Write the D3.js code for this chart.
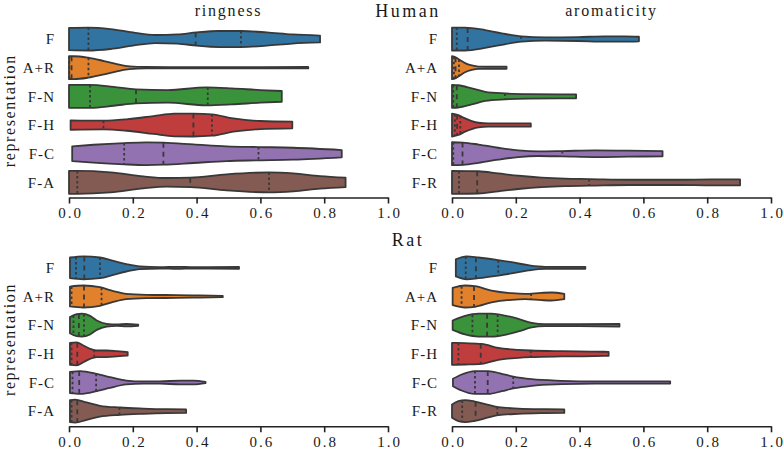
<!DOCTYPE html>
<html><head><meta charset="utf-8">
<script src="https://cdn.jsdelivr.net/npm/d3@7"></script>
<style>body{margin:0;background:#fff}svg{display:block}</style>
</head><body>
<svg id="chart" width="784" height="452"></svg>
<script>
// ---------------- data ----------------
const speciesNames = ["Human", "Rat"];
const propertyNames = ["ringness", "aromaticity"];
const ringnessCategories = ["F", "A+R", "F-N", "F-H", "F-C", "F-A"];
const aromaticityCategories = ["F", "A+A", "F-N", "F-H", "F-C", "F-R"];
const xTickValues = [0, 0.2, 0.4, 0.6, 0.8, 1.0];
const violinColors = ["#3274a1", "#e1812c", "#3a923a", "#c03d3e", "#9372b2", "#845b53"];

// density profiles: [value, relative half-width]
const humanRingnessProfiles = [
  [[0,0.97],[0.06,1.0],[0.13,0.87],[0.2,0.58],[0.27,0.35],[0.34,0.4],[0.4,0.58],[0.47,0.7],[0.54,0.7],[0.62,0.58],[0.7,0.4],[0.787,0.3]],
  [[0,1.0],[0.015,1.0],[0.06,0.87],[0.11,0.58],[0.15,0.32],[0.19,0.12],[0.24,0.06],[0.4,0.05],[0.6,0.05],[0.75,0.06]],
  [[0,1.0],[0.066,1.0],[0.14,0.82],[0.21,0.61],[0.31,0.55],[0.43,0.78],[0.51,0.7],[0.6,0.55],[0.667,0.47]],
  [[0.005,0.41],[0.108,0.38],[0.18,0.5],[0.265,0.78],[0.33,0.99],[0.39,1.0],[0.448,0.93],[0.515,0.58],[0.6,0.35],[0.70,0.29]],
  [[0.01,0.64],[0.076,0.78],[0.173,0.93],[0.243,0.99],[0.296,0.96],[0.39,0.81],[0.494,0.64],[0.594,0.58],[0.703,0.52],[0.855,0.32]],
  [[0,1.0],[0.026,1.0],[0.13,0.87],[0.233,0.52],[0.306,0.38],[0.38,0.41],[0.494,0.7],[0.627,0.87],[0.703,0.78],[0.787,0.55],[0.867,0.41]]
];
const humanRingnessQuartiles = [
  [0.061,0.397,0.539],[0.001,0.008,0.061],[0.066,0.21,0.435],[0.108,0.39,0.448],[0.173,0.296,0.594],[0.026,0.38,0.627]
];
const humanAromaticityProfiles = [
  [[0,1.0],[0.04,1.0],[0.104,0.78],[0.156,0.5],[0.218,0.23],[0.292,0.14],[0.396,0.17],[0.48,0.23],[0.542,0.23],[0.586,0.2]],
  [[0,1.0],[0.01,0.93],[0.025,0.67],[0.041,0.4],[0.062,0.2],[0.083,0.1],[0.124,0.09],[0.171,0.09]],
  [[0,1.0],[0.02,0.97],[0.062,0.7],[0.104,0.4],[0.166,0.26],[0.24,0.2],[0.389,0.17]],
  [[0,1.0],[0.02,0.87],[0.041,0.58],[0.062,0.35],[0.083,0.2],[0.114,0.14],[0.247,0.14]],
  [[0,1.0],[0.035,0.97],[0.083,0.8],[0.145,0.52],[0.208,0.29],[0.27,0.2],[0.346,0.23],[0.448,0.29],[0.553,0.26],[0.66,0.23]],
  [[0,1.0],[0.083,0.97],[0.145,0.78],[0.208,0.58],[0.281,0.41],[0.354,0.32],[0.43,0.29],[0.553,0.23],[0.71,0.23],[0.814,0.26],[0.903,0.26]]
];
const humanAromaticityQuartiles = [
  [0.015,0.049,0.216],[0.006,0.011,0.022],[0.004,0.015,0.166],[0.009,0.016,0.026],[0.004,0.033,0.346],[0.022,0.079,0.43]
];
const ratRingnessProfiles = [
  [[0.003,0.9],[0.045,1.0],[0.097,0.9],[0.139,0.61],[0.18,0.32],[0.222,0.12],[0.285,0.06],[0.34,0.09],[0.39,0.06],[0.533,0.08]],
  [[0.003,0.87],[0.045,0.96],[0.097,0.81],[0.139,0.47],[0.18,0.23],[0.243,0.15],[0.338,0.12],[0.41,0.09],[0.482,0.06]],
  [[0.003,0.7],[0.024,0.96],[0.04,1.0],[0.066,0.81],[0.087,0.41],[0.118,0.12],[0.15,0.06],[0.18,0.1],[0.217,0.05]],
  [[0.003,0.96],[0.024,1.0],[0.045,0.73],[0.066,0.44],[0.087,0.29],[0.118,0.29],[0.15,0.23],[0.184,0.15]],
  [[0.003,0.93],[0.035,1.0],[0.087,0.76],[0.128,0.47],[0.18,0.17],[0.233,0.09],[0.285,0.09],[0.348,0.17],[0.39,0.17],[0.428,0.06]],
  [[0.003,0.96],[0.019,1.0],[0.055,0.76],[0.097,0.47],[0.16,0.32],[0.233,0.23],[0.306,0.17],[0.367,0.15]]
];
const ratRingnessQuartiles = [
  [0.022,0.048,0.097],[0.008,0.047,0.102],[0.014,0.031,0.047],[0.008,0.026,0.079],[0.011,0.032,0.085],[0.008,0.026,0.158]
];
const ratAromaticityProfiles = [
  [[0.012,0.75],[0.046,1.0],[0.083,0.9],[0.145,0.67],[0.187,0.49],[0.239,0.23],[0.292,0.09],[0.418,0.09]],
  [[0.002,0.75],[0.041,0.96],[0.072,0.9],[0.124,0.52],[0.187,0.29],[0.229,0.23],[0.281,0.32],[0.312,0.35],[0.352,0.23]],
  [[0.002,0.41],[0.041,0.81],[0.083,1.0],[0.124,1.0],[0.166,0.84],[0.208,0.55],[0.25,0.2],[0.292,0.09],[0.396,0.09],[0.525,0.12]],
  [[0,0.96],[0.041,0.93],[0.093,0.87],[0.145,0.52],[0.208,0.35],[0.247,0.29],[0.344,0.23],[0.448,0.2],[0.491,0.17]],
  [[0.003,0.32],[0.03,0.7],[0.072,1.0],[0.114,1.0],[0.156,0.76],[0.192,0.52],[0.25,0.29],[0.344,0.15],[0.448,0.09],[0.553,0.09],[0.684,0.09]],
  [[0,0.58],[0.02,0.87],[0.041,0.96],[0.072,0.84],[0.114,0.55],[0.145,0.35],[0.208,0.23],[0.292,0.17],[0.352,0.15]]
];
const ratAromaticityQuartiles = [
  [0.043,0.075,0.145],[0.03,0.069,0.248],[0.064,0.11,0.143],[0.02,0.09,0.247],[0.072,0.112,0.192],[0.032,0.074,0.142]
];

// ---------------- layout ----------------
const svg = d3.select("#chart");
const FONT = "'Liberation Serif','Times New Roman',serif";
const EDGE = "#383838";
const TXT = "#1a1a1a";
const colRanges = [[69, 388], [452, 771]];
const rowRanges = [[24.7, 196.7], [253.5, 425.5]];

const panels = [
  {row:0, col:0, cats:ringnessCategories, prof:humanRingnessProfiles, q:humanRingnessQuartiles},
  {row:0, col:1, cats:aromaticityCategories, prof:humanAromaticityProfiles, q:humanAromaticityQuartiles},
  {row:1, col:0, cats:ringnessCategories, prof:ratRingnessProfiles, q:ratRingnessQuartiles},
  {row:1, col:1, cats:aromaticityCategories, prof:ratAromaticityProfiles, q:ratAromaticityQuartiles}
];

panels.forEach(p => {
  const x = d3.scaleLinear().domain([0, 1]).range(colRanges[p.col]);
  const y = d3.scaleBand().domain(p.cats).range(rowRanges[p.row]).padding(0);
  const w = d3.scaleLinear().domain([0, 1]).range([0, y.bandwidth() * 0.4]);
  const g = svg.append("g");

  p.cats.forEach((c, i) => {
    const cy = y(c) + y.bandwidth() / 2;
    const prof = p.prof[i];
    const area = d3.area()
      .x(d => x(d[0]))
      .y0(d => cy - w(d[1]))
      .y1(d => cy + w(d[1]))
      .curve(d3.curveMonotoneX);
    g.append("path").attr("d", area(prof))
      .attr("fill", violinColors[i]).attr("stroke", EDGE)
      .attr("stroke-width", 1.8).attr("stroke-linejoin", "round");
    const widthAt = d3.scaleLinear().domain(prof.map(d => d[0])).range(prof.map(d => d[1])).clamp(true);
    p.q[i].forEach((qv, k) => {
      const hw = w(widthAt(qv));
      g.append("line")
        .attr("x1", x(qv)).attr("x2", x(qv))
        .attr("y1", cy - hw).attr("y2", cy + hw)
        .attr("stroke", EDGE).attr("stroke-width", 1.8)
        .attr("stroke-dasharray", k === 1 ? "5,4" : "2.5,2.5");
    });
  });

  // y labels
  g.selectAll("text.ylab").data(p.cats).enter().append("text")
    .attr("x", colRanges[p.col][0] - 14)
    .attr("y", d => y(d) + y.bandwidth() / 2)
    .attr("dy", "0.35em")
    .attr("text-anchor", "end")
    .attr("font-family", FONT).attr("font-size", 15)
    .attr("letter-spacing", 1)
    .attr("fill", TXT)
    .text(d => d);

  // x axis
  const axisY = rowRanges[p.row][1] + 0.8;
  const ax = g.append("g").attr("transform", `translate(0,${axisY})`)
    .call(d3.axisBottom(x).tickValues(xTickValues).tickFormat(d3.format(".1f")).tickSize(6).tickSizeOuter(0).tickPadding(4));
  ax.select(".domain").attr("stroke", "#222").attr("stroke-width", 1.6);
  ax.selectAll(".tick line").attr("stroke", "#222").attr("stroke-width", 1.6);
  ax.selectAll(".tick text").attr("font-family", FONT).attr("font-size", 15)
    .attr("letter-spacing", 2).attr("fill", TXT).attr("dx", "1");

  // y axis title on left column
  if (p.col === 0) {
    const cyMid = (rowRanges[p.row][0] + rowRanges[p.row][1]) / 2;
    svg.append("text")
      .attr("transform", `translate(15,${cyMid}) rotate(-90)`)
      .attr("text-anchor", "middle")
      .attr("font-family", FONT).attr("font-size", 16)
      .attr("letter-spacing", 1.6).attr("fill", TXT)
      .text("representation");
  }
  // column titles on top row
  if (p.row === 0) {
    svg.append("text")
      .attr("x", (colRanges[p.col][0] + colRanges[p.col][1]) / 2)
      .attr("y", 16)
      .attr("text-anchor", "middle")
      .attr("font-family", FONT).attr("font-size", 16)
      .attr("letter-spacing", 1.8).attr("fill", TXT)
      .text(propertyNames[p.col]);
  }
});

// species titles
svg.selectAll("text.species").data(speciesNames).enter().append("text")
  .attr("x", 408)
  .attr("y", (d, i) => i === 0 ? 17 : 246)
  .attr("text-anchor", "middle")
  .attr("font-family", FONT).attr("font-size", 18)
  .attr("letter-spacing", 2.5).attr("fill", TXT)
  .text(d => d);
</script>
</body></html>
